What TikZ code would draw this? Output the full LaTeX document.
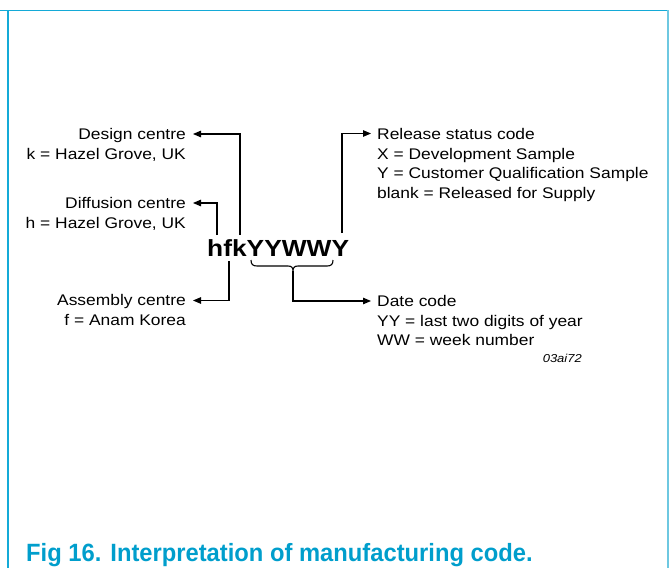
\documentclass[tikz,border=0pt]{standalone}
\usepackage{fontspec}
\setmainfont{Liberation Sans}[FakeStretch=1.13]
\newfontfamily\capfont{Liberation Sans}[FakeStretch=0.95]
\usetikzlibrary{arrows.meta}
\definecolor{capblue}{RGB}{0,158,204}
\definecolor{framecol}{RGB}{20,170,215}
\definecolor{framelight}{RGB}{110,200,225}
\tikzset{
  lbl/.style={inner sep=0pt, font=\fontsize{15.4}{20}\selectfont},
  lblr/.style={lbl, anchor=base east},
  lbll/.style={lbl, anchor=base west},
  conn/.style={line width=1.1pt, -{Triangle[length=8pt,width=6.5pt]}},
  bracepath/.style={line width=1.1pt},
}
\begin{document}
\begin{tikzpicture}[x=1pt,y=-1pt]
\useasboundingbox (0,0) rectangle (670,568);
% frame
\draw[framecol, line width=1.5pt] (0,10.5) -- (668,10.5);
\draw[framecol, line width=1.2pt] (8,10.5) -- (8,568);
\draw[framelight, line width=2pt] (668,10) -- (668,568);

% code
\node[anchor=base west, inner sep=0pt, font=\bfseries\fontsize{23.3}{28}\selectfont] (code) at (207,256) {hfkYYWWY};

% left labels
\node[lblr] (design)  at (186,139) {Design centre};
\node[lblr] (designk) at (186,159) {k = Hazel Grove, UK};
\node[lblr] (diff)    at (186,208) {Diffusion centre};
\node[lblr] (diffh)   at (186,228) {h = Hazel Grove, UK};
\node[lblr] (asm)     at (186,305.5) {Assembly centre};
\node[lblr] (asmf)    at (186,325.5) {f = Anam Korea};

% right labels
\node[lbll] (rel)  at (377,139) {Release status code};
\node[lbll] (relx) at (377,159) {X = Development Sample};
\node[lbll] (rely) at (377,178.5) {Y = Customer Qualification Sample};
\node[lbll] (relb) at (377,198) {blank = Released for Supply};
\node[lbll] (date)   at (377,306) {Date code};
\node[lbll] (dateyy) at (377,326) {YY = last two digits of year};
\node[lbll] (dateww) at (377,345.5) {WW = week number};
\node[anchor=base east, inner sep=0pt, font=\itshape\fontsize{11.5}{14}\selectfont] (ref) at (582,362) {03ai72};

% connector coordinates
\coordinate (kTop) at (240,235);
\coordinate (dTip) at (193,134);
\coordinate (hTop) at (217,235);
\coordinate (hTip) at (193,203);
\coordinate (fBot) at (229,261);
\coordinate (aTip) at (193,300.5);
\coordinate (yTop) at (342,233);
\coordinate (rTip) at (371,133.5);
\coordinate (bTip) at (293,271);
\coordinate (dcTip) at (371,301);

\draw[conn] (kTop) |- (dTip);
\draw[conn] (hTop) |- (hTip);
\draw[conn] (fBot) |- (aTip);
\draw[conn] (yTop) |- (rTip);
\draw[conn] (bTip) |- (dcTip);

% brace under YYWW
\draw[bracepath] (251,260) .. controls (251,264.5) and (253,266) .. (257,266)
  -- (288,266) .. controls (291.5,266) and (293,267.5) .. (bTip)
  .. controls (293,267.5) and (294.5,266) .. (298,266)
  -- (327,266) .. controls (331,266) and (333,264.5) .. (333,260);

% caption
\node[anchor=base west, inner sep=0pt, text=capblue, font=\capfont\bfseries\fontsize{25}{28}\selectfont] (cap) at (26,561) {Fig 16.\hspace{9pt}Interpretation of manufacturing code.};
\end{tikzpicture}
\end{document}
